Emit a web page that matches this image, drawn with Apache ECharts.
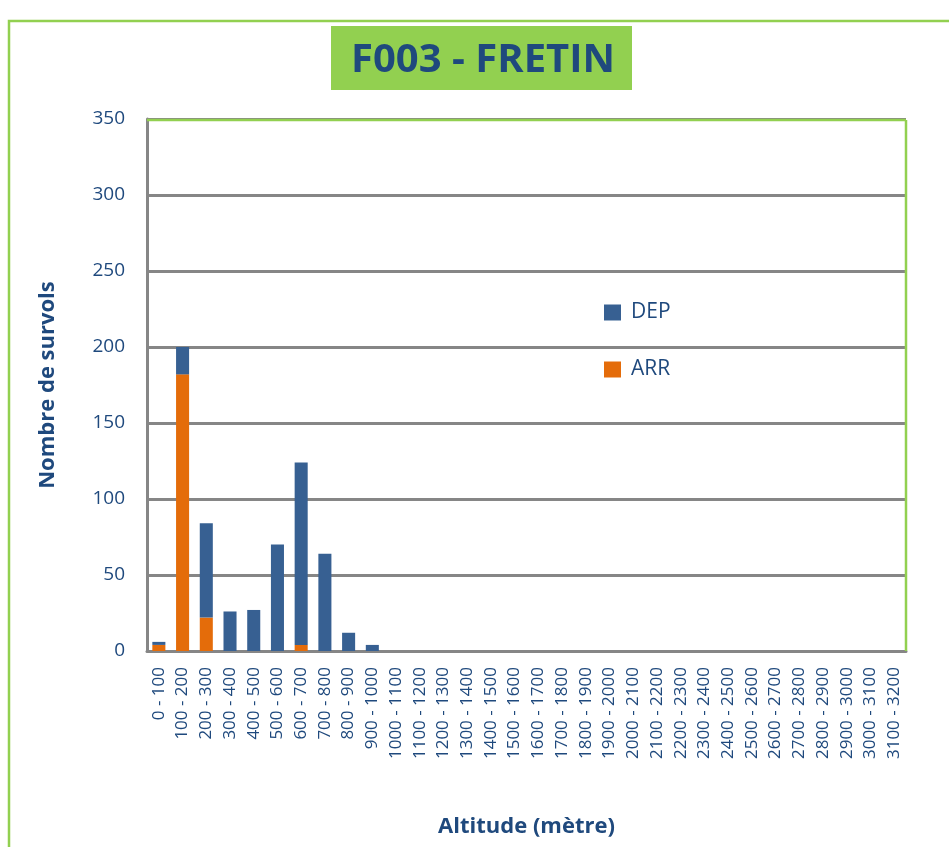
<!DOCTYPE html>
<html>
<head>
<meta charset="utf-8">
<script src="https://cdn.jsdelivr.net/npm/echarts@6/dist/echarts.min.js"></script>
<style>html,body{margin:0;padding:0;background:#fff;}#c{width:949px;height:847px;}</style>
</head>
<body>
<div id="c"></div>
<script>
var categories = [];
var starts = [0,100,200,300,400,500,600,700,800,900,1000,1100,1200,1300,1400,1500,1600,1700,1800,1900,2000,2100,2200,2300,2400,2500,2600,2700,2800,2900,3000,3100];
var ends = [100,200,300,400,500,600,700,800,900,1000,1100,1200,1300,1400,1500,1600,1700,1800,1900,2000,2100,2200,2300,2400,2500,2600,2700,2800,2900,3000,3100,3200];
for (var i = 0; i < starts.length; i++) categories.push(starts[i] + ' - ' + ends[i]);
var arrValues = [4,182,22,0,0,0,4,0,0,0,0,0,0,0,0,0,0,0,0,0,0,0,0,0,0,0,0,0,0,0,0,0];
var depValues = [2,18,62,26,27,70,120,64,12,4,0,0,0,0,0,0,0,0,0,0,0,0,0,0,0,0,0,0,0,0,0,0];
var yTicks = {min: 0, max: 350, interval: 50};

var navy = '#1F497D';
var green = '#92D050';
var font = '"Open Sans",Arial,sans-serif';
var chart = echarts.init(document.getElementById('c'));
chart.setOption({
  animation: false,
  backgroundColor: '#fff',
  graphic: [
    {type: 'rect', shape: {x: 9, y: 21, width: 1000, height: 900}, style: {fill: 'none', stroke: green, lineWidth: 2.5}, z: -1},
    {type: 'rect', shape: {x: 331, y: 26, width: 301, height: 64}, style: {fill: green}, z: 1},
    {type: 'text', x: 483, y: 61, style: {text: 'F003 - FRETIN', fill: navy, font: 'bold 40px ' + font, textAlign: 'center', textVerticalAlign: 'middle'}, z: 2},
    {type: 'line', shape: {x1: 147, y1: 120, x2: 906, y2: 120}, style: {stroke: green, lineWidth: 2.5}, z: 5},
    {type: 'line', shape: {x1: 906, y1: 120, x2: 906, y2: 651}, style: {stroke: green, lineWidth: 2.5}, z: 5}
  ],
  legend: {
    orient: 'vertical',
    left: 604, top: 302,
    padding: 0,
    itemWidth: 17, itemHeight: 16, itemGap: 36,
    icon: 'rect',
    textStyle: {color: navy, fontSize: 21, fontFamily: font, padding: [0, 0, 0, 5]},
    data: ['DEP', 'ARR']
  },
  grid: {left: 147, right: 43, top: 119, bottom: 196, containLabel: false},
  xAxis: {
    type: 'category',
    data: categories,
    name: 'Altitude (mètre)',
    nameLocation: 'middle',
    nameGap: 165,
    nameTextStyle: {color: navy, fontSize: 22, fontWeight: 'bold', fontFamily: font},
    axisLine: {lineStyle: {color: '#868686', width: 3}},
    axisTick: {show: false},
    axisLabel: {rotate: 90, interval: 0, color: navy, fontSize: 17, fontFamily: font, margin: 16}
  },
  yAxis: {
    type: 'value',
    min: yTicks.min, max: yTicks.max, interval: yTicks.interval,
    name: 'Nombre de survols',
    nameLocation: 'middle',
    nameGap: 88,
    nameTextStyle: {color: navy, fontSize: 22, fontWeight: 'bold', fontFamily: font},
    axisLine: {show: true, lineStyle: {color: '#868686', width: 3}},
    axisTick: {show: false},
    splitLine: {lineStyle: {color: '#868686', width: 3}},
    axisLabel: {color: navy, fontSize: 19, fontFamily: font, margin: 22}
  },
  series: [
    {name: 'ARR', type: 'bar', stack: 'total', data: arrValues, barWidth: '55%', itemStyle: {color: '#E46C0A'}},
    {name: 'DEP', type: 'bar', stack: 'total', data: depValues, barWidth: '55%', itemStyle: {color: '#376092'}}
  ]
});
</script>
</body>
</html>
